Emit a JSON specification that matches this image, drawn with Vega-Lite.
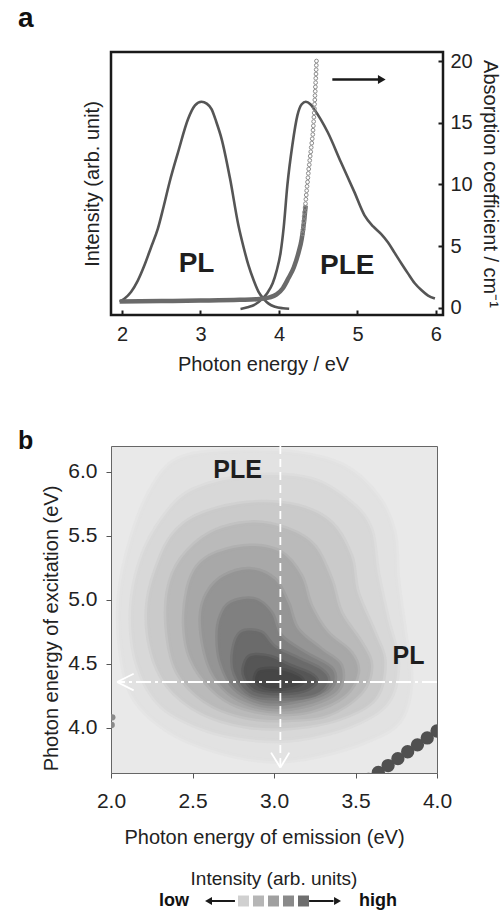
{
  "$schema": "https://vega.github.io/schema/vega-lite/v6.json",
  "padding": {"left": 16, "top": 3, "right": 0, "bottom": 0},
  "spacing": 52,
  "config": {
    "font": "Liberation Sans",
    "view": {"stroke": null},
    "axis": {"grid": false, "domain": false, "labelFontSize": 20, "titleFontSize": 20, "titleFontWeight": "normal", "labelColor": "#222", "titleColor": "#222", "labelFlush": false, "labelOverlap": false},
    "title": {"color": "#111"}
  },
  "datasets": {
    "curves": [
      {"s":"PL","e":1.97,"v":0.5},{"s":"PL","e":2.03,"v":0.75},{"s":"PL","e":2.115,"v":1.3},{"s":"PL","e":2.2,"v":2.2},{"s":"PL","e":2.286,"v":3.46},{"s":"PL","e":2.37,"v":4.9},{"s":"PL","e":2.457,"v":6.42},{"s":"PL","e":2.53,"v":8.2},{"s":"PL","e":2.607,"v":10.2},{"s":"PL","e":2.714,"v":12.6},{"s":"PL","e":2.842,"v":15.3},{"s":"PL","e":2.93,"v":16.4},{"s":"PL","e":3.013,"v":16.7},{"s":"PL","e":3.08,"v":16.55},{"s":"PL","e":3.141,"v":16.1},{"s":"PL","e":3.2,"v":15.1},{"s":"PL","e":3.269,"v":13.7},{"s":"PL","e":3.376,"v":10.5},{"s":"PL","e":3.483,"v":6.7},{"s":"PL","e":3.55,"v":4.9},{"s":"PL","e":3.611,"v":3.46},{"s":"PL","e":3.68,"v":2.2},{"s":"PL","e":3.74,"v":1.3},{"s":"PL","e":3.81,"v":0.7},{"s":"PL","e":3.868,"v":0.35},{"s":"PL","e":3.95,"v":0.1},{"s":"PL","e":4.05,"v":-0.02},{"s":"PL","e":4.13,"v":-0.06},
      {"s":"PLE","e":3.51,"v":-0.08},{"s":"PLE","e":3.6,"v":0.05},{"s":"PLE","e":3.7,"v":0.3},{"s":"PLE","e":3.78,"v":0.7},{"s":"PLE","e":3.85,"v":1.2},{"s":"PLE","e":3.92,"v":2.0},{"s":"PLE","e":3.97,"v":3.0},{"s":"PLE","e":4.022,"v":4.53},{"s":"PLE","e":4.06,"v":6.5},{"s":"PLE","e":4.107,"v":9.93},{"s":"PLE","e":4.171,"v":13.2},{"s":"PLE","e":4.235,"v":15.6},{"s":"PLE","e":4.29,"v":16.5},{"s":"PLE","e":4.342,"v":16.7},{"s":"PLE","e":4.4,"v":16.5},{"s":"PLE","e":4.449,"v":16.1},{"s":"PLE","e":4.53,"v":15.3},{"s":"PLE","e":4.62,"v":14.25},{"s":"PLE","e":4.79,"v":11.8},{"s":"PLE","e":4.96,"v":9.4},{"s":"PLE","e":5.09,"v":7.5},{"s":"PLE","e":5.2,"v":6.6},{"s":"PLE","e":5.3,"v":6.0},{"s":"PLE","e":5.39,"v":5.3},{"s":"PLE","e":5.47,"v":4.5},{"s":"PLE","e":5.56,"v":3.6},{"s":"PLE","e":5.645,"v":2.78},{"s":"PLE","e":5.73,"v":2.0},{"s":"PLE","e":5.817,"v":1.43},{"s":"PLE","e":5.9,"v":1.0},{"s":"PLE","e":5.987,"v":0.76}
    ],
    "absLine": [
      {"e":1.97,"v":0.52},{"e":2.5,"v":0.56},{"e":3.0,"v":0.6},{"e":3.5,"v":0.66},{"e":3.75,"v":0.72},{"e":3.88,"v":0.85},{"e":3.97,"v":1.1},{"e":4.05,"v":1.6},{"e":4.12,"v":2.4},{"e":4.19,"v":3.3},{"e":4.25,"v":4.5},{"e":4.29,"v":5.6},{"e":4.32,"v":7.0},{"e":4.34,"v":8.3}
    ],
    "absPts": [
      {"e":4.301,"v":6.0},{"e":4.307,"v":6.35},{"e":4.312,"v":6.7},{"e":4.317,"v":7.05},{"e":4.322,"v":7.4},{"e":4.327,"v":7.75},{"e":4.333,"v":8.1},{"e":4.338,"v":8.45},{"e":4.343,"v":8.8},{"e":4.348,"v":9.15},{"e":4.353,"v":9.5},{"e":4.358,"v":9.85},{"e":4.364,"v":10.2},{"e":4.369,"v":10.55},{"e":4.374,"v":10.9},{"e":4.379,"v":11.25},{"e":4.386,"v":11.6},{"e":4.392,"v":11.95},{"e":4.398,"v":12.3},{"e":4.405,"v":12.65},{"e":4.411,"v":13.0},{"e":4.418,"v":13.35},{"e":4.424,"v":13.7},{"e":4.431,"v":14.05},{"e":4.434,"v":14.4},{"e":4.438,"v":14.75},{"e":4.442,"v":15.1},{"e":4.445,"v":15.45},{"e":4.449,"v":15.8},{"e":4.452,"v":16.15},{"e":4.454,"v":16.5},{"e":4.457,"v":16.85},{"e":4.459,"v":17.2},{"e":4.462,"v":17.55},{"e":4.464,"v":17.9},{"e":4.467,"v":18.25},{"e":4.469,"v":18.6},{"e":4.472,"v":18.95},{"e":4.474,"v":19.3},{"e":4.476,"v":19.65},{"e":4.478,"v":20.0}
    ],
    "arrowA": [{"e":4.68,"e2":5.29,"v":18.5}],
    "arrowHeadA": [{"e":5.31,"v":18.5}],
    "labelsA": [{"t":"PL","e":2.95,"v":2.9},{"t":"PLE","e":4.87,"v":2.78}],
    "contours": [
      {"lv":"L01","o":1,"em":2.409,"ex":6.096},{"lv":"L01","o":2,"em":2.716,"ex":6.161},{"lv":"L01","o":3,"em":3.125,"ex":6.148},{"lv":"L01","o":4,"em":3.431,"ex":6.044},{"lv":"L01","o":5,"em":3.636,"ex":5.809},{"lv":"L01","o":6,"em":3.738,"ex":5.523},{"lv":"L01","o":7,"em":3.759,"ex":5.158},{"lv":"L01","o":8,"em":3.8,"ex":4.768},{"lv":"L01","o":9,"em":3.84,"ex":4.377},{"lv":"L01","o":10,"em":3.779,"ex":4.065},{"lv":"L01","o":11,"em":3.595,"ex":3.908},{"lv":"L01","o":12,"em":3.268,"ex":3.778},{"lv":"L01","o":13,"em":2.982,"ex":3.739},{"lv":"L01","o":14,"em":2.675,"ex":3.804},{"lv":"L01","o":15,"em":2.368,"ex":3.96},{"lv":"L01","o":16,"em":2.143,"ex":4.221},{"lv":"L01","o":17,"em":2.061,"ex":4.585},{"lv":"L01","o":18,"em":2.051,"ex":5.028},{"lv":"L01","o":19,"em":2.123,"ex":5.471},{"lv":"L01","o":20,"em":2.245,"ex":5.861},
      {"lv":"L02","o":1,"em":2.511,"ex":5.861},{"lv":"L02","o":2,"em":2.859,"ex":5.966},{"lv":"L02","o":3,"em":3.227,"ex":5.94},{"lv":"L02","o":4,"em":3.472,"ex":5.757},{"lv":"L02","o":5,"em":3.595,"ex":5.549},{"lv":"L02","o":6,"em":3.636,"ex":5.21},{"lv":"L02","o":7,"em":3.697,"ex":4.846},{"lv":"L02","o":8,"em":3.759,"ex":4.507},{"lv":"L02","o":9,"em":3.697,"ex":4.195},{"lv":"L02","o":10,"em":3.472,"ex":4.012},{"lv":"L02","o":11,"em":3.145,"ex":3.908},{"lv":"L02","o":12,"em":2.859,"ex":3.908},{"lv":"L02","o":13,"em":2.573,"ex":3.986},{"lv":"L02","o":14,"em":2.307,"ex":4.169},{"lv":"L02","o":15,"em":2.164,"ex":4.481},{"lv":"L02","o":16,"em":2.123,"ex":4.898},{"lv":"L02","o":17,"em":2.184,"ex":5.315},{"lv":"L02","o":18,"em":2.327,"ex":5.653},
      {"lv":"L03","o":1,"em":2.573,"ex":5.679},{"lv":"L03","o":2,"em":2.859,"ex":5.757},{"lv":"L03","o":3,"em":3.145,"ex":5.731},{"lv":"L03","o":4,"em":3.35,"ex":5.601},{"lv":"L03","o":5,"em":3.472,"ex":5.341},{"lv":"L03","o":6,"em":3.513,"ex":5.054},{"lv":"L03","o":7,"em":3.616,"ex":4.742},{"lv":"L03","o":8,"em":3.677,"ex":4.507},{"lv":"L03","o":9,"em":3.616,"ex":4.221},{"lv":"L03","o":10,"em":3.391,"ex":4.065},{"lv":"L03","o":11,"em":3.104,"ex":3.999},{"lv":"L03","o":12,"em":2.818,"ex":4.012},{"lv":"L03","o":13,"em":2.552,"ex":4.117},{"lv":"L03","o":14,"em":2.348,"ex":4.325},{"lv":"L03","o":15,"em":2.245,"ex":4.611},{"lv":"L03","o":16,"em":2.225,"ex":4.976},{"lv":"L03","o":17,"em":2.307,"ex":5.341},{"lv":"L03","o":18,"em":2.409,"ex":5.549},
      {"lv":"L04","o":1,"em":2.613,"ex":5.523},{"lv":"L04","o":2,"em":2.859,"ex":5.601},{"lv":"L04","o":3,"em":3.084,"ex":5.549},{"lv":"L04","o":4,"em":3.247,"ex":5.419},{"lv":"L04","o":5,"em":3.35,"ex":5.158},{"lv":"L04","o":6,"em":3.411,"ex":4.898},{"lv":"L04","o":7,"em":3.534,"ex":4.664},{"lv":"L04","o":8,"em":3.595,"ex":4.481},{"lv":"L04","o":9,"em":3.534,"ex":4.273},{"lv":"L04","o":10,"em":3.329,"ex":4.1},{"lv":"L04","o":11,"em":3.063,"ex":4.06},{"lv":"L04","o":12,"em":2.798,"ex":4.09},{"lv":"L04","o":13,"em":2.573,"ex":4.21},{"lv":"L04","o":14,"em":2.409,"ex":4.429},{"lv":"L04","o":15,"em":2.348,"ex":4.716},{"lv":"L04","o":16,"em":2.348,"ex":5.054},{"lv":"L04","o":17,"em":2.429,"ex":5.315},
      {"lv":"L05","o":1,"em":2.654,"ex":5.367},{"lv":"L05","o":2,"em":2.859,"ex":5.419},{"lv":"L05","o":3,"em":3.043,"ex":5.367},{"lv":"L05","o":4,"em":3.166,"ex":5.184},{"lv":"L05","o":5,"em":3.227,"ex":4.95},{"lv":"L05","o":6,"em":3.329,"ex":4.742},{"lv":"L05","o":7,"em":3.472,"ex":4.585},{"lv":"L05","o":8,"em":3.513,"ex":4.429},{"lv":"L05","o":9,"em":3.431,"ex":4.25},{"lv":"L05","o":10,"em":3.227,"ex":4.13},{"lv":"L05","o":11,"em":3.002,"ex":4.11},{"lv":"L05","o":12,"em":2.777,"ex":4.17},{"lv":"L05","o":13,"em":2.613,"ex":4.31},{"lv":"L05","o":14,"em":2.491,"ex":4.533},{"lv":"L05","o":15,"em":2.45,"ex":4.794},{"lv":"L05","o":16,"em":2.47,"ex":5.08},{"lv":"L05","o":17,"em":2.532,"ex":5.262},
      {"lv":"L06","o":1,"em":2.695,"ex":5.184},{"lv":"L06","o":2,"em":2.859,"ex":5.236},{"lv":"L06","o":3,"em":3.002,"ex":5.158},{"lv":"L06","o":4,"em":3.084,"ex":4.976},{"lv":"L06","o":5,"em":3.145,"ex":4.768},{"lv":"L06","o":6,"em":3.288,"ex":4.611},{"lv":"L06","o":7,"em":3.411,"ex":4.481},{"lv":"L06","o":8,"em":3.39,"ex":4.29},{"lv":"L06","o":9,"em":3.186,"ex":4.17},{"lv":"L06","o":10,"em":2.961,"ex":4.15},{"lv":"L06","o":11,"em":2.757,"ex":4.24},{"lv":"L06","o":12,"em":2.634,"ex":4.403},{"lv":"L06","o":13,"em":2.573,"ex":4.611},{"lv":"L06","o":14,"em":2.552,"ex":4.872},{"lv":"L06","o":15,"em":2.593,"ex":5.054},
      {"lv":"L07","o":1,"em":2.736,"ex":4.976},{"lv":"L07","o":2,"em":2.879,"ex":5.002},{"lv":"L07","o":3,"em":2.982,"ex":4.898},{"lv":"L07","o":4,"em":3.043,"ex":4.716},{"lv":"L07","o":5,"em":3.186,"ex":4.585},{"lv":"L07","o":6,"em":3.36,"ex":4.45},{"lv":"L07","o":7,"em":3.33,"ex":4.29},{"lv":"L07","o":8,"em":3.104,"ex":4.2},{"lv":"L07","o":9,"em":2.92,"ex":4.2},{"lv":"L07","o":10,"em":2.757,"ex":4.31},{"lv":"L07","o":11,"em":2.675,"ex":4.507},{"lv":"L07","o":12,"em":2.654,"ex":4.716},{"lv":"L07","o":13,"em":2.675,"ex":4.872},
      {"lv":"L08","o":1,"em":2.798,"ex":4.742},{"lv":"L08","o":2,"em":2.92,"ex":4.742},{"lv":"L08","o":3,"em":3.002,"ex":4.63},{"lv":"L08","o":4,"em":3.145,"ex":4.54},{"lv":"L08","o":5,"em":3.29,"ex":4.45},{"lv":"L08","o":6,"em":3.33,"ex":4.36},{"lv":"L08","o":7,"em":3.25,"ex":4.26},{"lv":"L08","o":8,"em":3.05,"ex":4.23},{"lv":"L08","o":9,"em":2.86,"ex":4.26},{"lv":"L08","o":10,"em":2.76,"ex":4.42},{"lv":"L08","o":11,"em":2.75,"ex":4.6},
      {"lv":"L09","o":1,"em":2.86,"ex":4.56},{"lv":"L09","o":2,"em":2.98,"ex":4.55},{"lv":"L09","o":3,"em":3.1,"ex":4.48},{"lv":"L09","o":4,"em":3.22,"ex":4.42},{"lv":"L09","o":5,"em":3.26,"ex":4.36},{"lv":"L09","o":6,"em":3.18,"ex":4.29},{"lv":"L09","o":7,"em":3.02,"ex":4.27},{"lv":"L09","o":8,"em":2.88,"ex":4.3},{"lv":"L09","o":9,"em":2.82,"ex":4.4},{"lv":"L09","o":10,"em":2.82,"ex":4.49},
      {"lv":"L10","o":1,"em":2.92,"ex":4.45},{"lv":"L10","o":2,"em":3.04,"ex":4.45},{"lv":"L10","o":3,"em":3.15,"ex":4.4},{"lv":"L10","o":4,"em":3.17,"ex":4.35},{"lv":"L10","o":5,"em":3.08,"ex":4.31},{"lv":"L10","o":6,"em":2.96,"ex":4.31},{"lv":"L10","o":7,"em":2.89,"ex":4.36},{"lv":"L10","o":8,"em":2.89,"ex":4.41}
    ],
    "scatter": [
      {"em":3.58,"ex":3.595},{"em":3.64,"ex":3.649},{"em":3.7,"ex":3.703},{"em":3.76,"ex":3.757},{"em":3.82,"ex":3.811},{"em":3.88,"ex":3.865},{"em":3.94,"ex":3.919},{"em":4.0,"ex":3.973},{"em":4.06,"ex":4.027}
    ],
    "smudge": [{"em":2.004,"ex":4.02},{"em":2.008,"ex":4.08}],
    "guides": [
      {"k":"v","em":3.039,"ex":6.2,"em2":3.039,"ex2":3.69},
      {"k":"h","em":4.0,"ex":4.356,"em2":2.04,"ex2":4.356},
      {"k":"c","em":3.039,"ex":3.687,"em2":2.982,"ex2":3.804},
      {"k":"c","em":3.039,"ex":3.687,"em2":3.094,"ex2":3.804},
      {"k":"c","em":2.037,"ex":4.356,"em2":2.139,"ex2":4.421},
      {"k":"c","em":2.037,"ex":4.356,"em2":2.139,"ex2":4.291}
    ],
    "labelsB": [{"t":"PLE","em":2.777,"ex":5.95},{"t":"PL","em":3.825,"ex":4.495}],
    "legendSq": [{"k":1,"c":"#d0d0d0"},{"k":2,"c":"#b6b6b6"},{"k":3,"c":"#a0a0a0"},{"k":4,"c":"#8a8a8a"},{"k":5,"c":"#6e6e6e"}],
    "legendArrows": [{"a":-1.1,"b":0.43},{"a":5.37,"b":7.0}],
    "legendHeads": [{"p":-1.33,"sh":"triangle-left"},{"p":7.27,"sh":"triangle-right"}],
    "legendText": [{"t":"low","p":-3.63},{"t":"high","p":9.97}]
  },
  "vconcat": [
    {
      "title": {"text": "a", "anchor": "start", "frame": "group", "fontSize": 28, "fontWeight": "bold", "dx": -93, "offset": -4, "baseline": "alphabetic"},
      "width": 332,
      "height": 263,
      "view": {"stroke": "#1a1a1a", "strokeWidth": 2.5},
      "resolve": {"scale": {"y": "independent"}},
      "layer": [
        {
          "layer": [
            {
              "data": {"name": "curves"},
              "mark": {"type": "line", "interpolate": "monotone", "stroke": "#555", "strokeWidth": 2.6},
              "encoding": {
                "x": {"field": "e", "type": "quantitative", "scale": {"domain": [1.86, 6.09], "nice": false, "zero": false},
                      "axis": {"values": [2, 3, 4, 5, 6], "format": "d", "tickSize": -5, "tickWidth": 2, "tickColor": "#1a1a1a", "labelPadding": 14, "title": "Photon energy / eV", "titlePadding": 10, "titleX": 152}},
                "y": {"field": "v", "type": "quantitative", "scale": {"domain": [-0.57, 20.73], "nice": false, "zero": false},
                      "axis": {"orient": "left", "labels": false, "ticks": false, "title": "Intensity (arb. unit)", "titlePadding": 9}},
                "detail": {"field": "s"}
              }
            },
            {
              "data": {"name": "labelsA"},
              "mark": {"type": "text", "fontSize": 28, "fontWeight": "bold", "baseline": "alphabetic", "align": "center", "color": "#1e1e1e"},
              "encoding": {
                "x": {"field": "e", "type": "quantitative"},
                "y": {"field": "v", "type": "quantitative"},
                "text": {"field": "t"}
              }
            }
          ]
        },
        {
          "layer": [
            {
              "data": {"name": "absLine"},
              "mark": {"type": "line", "interpolate": "monotone", "stroke": "#6a6a6a", "strokeWidth": 4.5},
              "encoding": {
                "x": {"field": "e", "type": "quantitative"},
                "y": {"field": "v", "type": "quantitative", "scale": {"domain": [-0.57, 20.73], "nice": false, "zero": false},
                      "axis": {"orient": "right", "values": [0, 5, 10, 15, 20], "tickSize": -5, "tickWidth": 2, "tickColor": "#1a1a1a", "labelPadding": 12, "title": "Absorption coefficient / cm⁻¹", "titlePadding": 7}}
              }
            },
            {
              "data": {"name": "absPts"},
              "mark": {"type": "point", "shape": "circle", "filled": false, "stroke": "#8c8c8c", "strokeWidth": 1, "size": 14, "opacity": 1},
              "encoding": {
                "x": {"field": "e", "type": "quantitative"},
                "y": {"field": "v", "type": "quantitative"}
              }
            },
            {
              "data": {"name": "arrowA"},
              "mark": {"type": "rule", "stroke": "#1a1a1a", "strokeWidth": 2.5},
              "encoding": {
                "x": {"field": "e", "type": "quantitative"},
                "x2": {"field": "e2"},
                "y": {"field": "v", "type": "quantitative"}
              }
            },
            {
              "data": {"name": "arrowHeadA"},
              "mark": {"type": "point", "shape": "triangle-right", "filled": true, "color": "#1a1a1a", "size": 80, "opacity": 1},
              "encoding": {
                "x": {"field": "e", "type": "quantitative"},
                "y": {"field": "v", "type": "quantitative"}
              }
            }
          ]
        }
      ]
    },
    {
      "spacing": 22,
      "vconcat": [
        {
          "title": {"text": "b", "anchor": "start", "frame": "group", "fontSize": 25, "fontWeight": "bold", "dx": -93, "offset": -29, "baseline": "alphabetic"},
          "width": 326,
          "height": 327,
          "view": {"fill": "#e9e9e9", "stroke": "#666", "strokeWidth": 1},
          "layer": [
            {
              "data": {"name": "contours"},
              "mark": {"type": "line", "interpolate": "cardinal-closed", "strokeWidth": 5, "strokeOpacity": 0.5, "clip": true},
              "encoding": {
                "x": {"field": "em", "type": "quantitative", "scale": {"domain": [2, 4], "nice": false, "zero": false},
                      "axis": {"values": [2, 2.5, 3, 3.5, 4], "format": ".1f", "labelFontSize": 21, "tickSize": 5, "tickColor": "#555", "labelPadding": 12, "title": "Photon energy  of emission (eV)", "titlePadding": 16, "titleX": 153}},
                "y": {"field": "ex", "type": "quantitative", "scale": {"domain": [3.645, 6.2], "nice": false, "zero": false},
                      "axis": {"values": [4, 4.5, 5, 5.5, 6], "format": ".1f", "labelFontSize": 21, "tickSize": 5, "tickColor": "#555", "labelPadding": 9, "title": "Photon energy  of excitation (eV)", "titlePadding": 6, "titleY": 182}},
                "detail": {"field": "lv"},
                "order": {"field": "o", "type": "quantitative"},
                "fill": {"field": "lv", "type": "nominal", "legend": null,
                         "scale": {"domain": ["L01","L02","L03","L04","L05","L06","L07","L08","L09","L10"],
                                   "range": ["#e2e2e2","#d8d8d8","#cacaca","#bababa","#a8a8a8","#959595","#808080","#6b6b6b","#565656","#464646"]}},
                "stroke": {"field": "lv", "type": "nominal", "legend": null,
                         "scale": {"domain": ["L01","L02","L03","L04","L05","L06","L07","L08","L09","L10"],
                                   "range": ["#e2e2e2","#d8d8d8","#cacaca","#bababa","#a8a8a8","#959595","#808080","#6b6b6b","#565656","#464646"]}}
              }
            },
            {
              "data": {"name": "scatter"},
              "mark": {"type": "point", "shape": "circle", "filled": true, "color": "#505050", "size": 177, "opacity": 1, "clip": true},
              "encoding": {
                "x": {"field": "em", "type": "quantitative"},
                "y": {"field": "ex", "type": "quantitative"}
              }
            },
            {
              "data": {"name": "smudge"},
              "mark": {"type": "point", "shape": "circle", "filled": true, "color": "#8a8a8a", "size": 40, "opacity": 1, "clip": true},
              "encoding": {
                "x": {"field": "em", "type": "quantitative"},
                "y": {"field": "ex", "type": "quantitative"}
              }
            },
            {
              "data": {"name": "guides"},
              "transform": [{"filter": "datum.k === 'v'"}],
              "mark": {"type": "rule", "stroke": "#ffffff", "strokeWidth": 1.8, "strokeDash": [8, 5]},
              "encoding": {
                "x": {"field": "em", "type": "quantitative"},
                "y": {"field": "ex", "type": "quantitative"},
                "x2": {"field": "em2"},
                "y2": {"field": "ex2"}
              }
            },
            {
              "data": {"name": "guides"},
              "transform": [{"filter": "datum.k === 'h'"}],
              "mark": {"type": "rule", "stroke": "#ffffff", "strokeWidth": 1.8, "strokeDash": [15, 4, 3, 4]},
              "encoding": {
                "x": {"field": "em", "type": "quantitative"},
                "y": {"field": "ex", "type": "quantitative"},
                "x2": {"field": "em2"},
                "y2": {"field": "ex2"}
              }
            },
            {
              "data": {"name": "guides"},
              "transform": [{"filter": "datum.k === 'c'"}],
              "mark": {"type": "rule", "stroke": "#ffffff", "strokeWidth": 1.8},
              "encoding": {
                "x": {"field": "em", "type": "quantitative"},
                "y": {"field": "ex", "type": "quantitative"},
                "x2": {"field": "em2"},
                "y2": {"field": "ex2"}
              }
            },
            {
              "data": {"name": "labelsB"},
              "mark": {"type": "text", "fontSize": 25, "fontWeight": "bold", "baseline": "alphabetic", "align": "center", "color": "#1e1e1e"},
              "encoding": {
                "x": {"field": "em", "type": "quantitative"},
                "y": {"field": "ex", "type": "quantitative"},
                "text": {"field": "t"}
              }
            }
          ]
        },
        {
          "title": {"text": "Intensity (arb. units)", "anchor": "middle", "frame": "group", "fontSize": 19, "fontWeight": "normal", "offset": 3, "color": "#222"},
          "width": 326,
          "height": 18,
          "layer": [
            {
              "data": {"name": "legendArrows"},
              "mark": {"type": "rule", "stroke": "#1a1a1a", "strokeWidth": 2},
              "encoding": {
                "x": {"field": "a", "type": "quantitative", "scale": {"domain": [-7.833, 13.9], "nice": false, "zero": false}, "axis": null},
                "x2": {"field": "b"},
                "y": {"datum": 0, "type": "quantitative", "scale": {"domain": [-1, 1]}, "axis": null}
              }
            },
            {
              "data": {"name": "legendHeads"},
              "mark": {"type": "point", "filled": true, "color": "#1a1a1a", "size": 64, "opacity": 1},
              "encoding": {
                "x": {"field": "p", "type": "quantitative"},
                "y": {"datum": 0, "type": "quantitative"},
                "shape": {"field": "sh", "type": "nominal", "scale": null}
              }
            },
            {
              "data": {"name": "legendSq"},
              "mark": {"type": "point", "shape": "square", "filled": true, "size": 121, "opacity": 1},
              "encoding": {
                "x": {"field": "k", "type": "quantitative"},
                "y": {"datum": 0, "type": "quantitative"},
                "color": {"field": "c", "type": "nominal", "scale": null}
              }
            },
            {
              "data": {"name": "legendText"},
              "mark": {"type": "text", "fontSize": 18, "fontWeight": "bold", "baseline": "middle", "align": "center", "color": "#111"},
              "encoding": {
                "x": {"field": "p", "type": "quantitative"},
                "y": {"datum": 0, "type": "quantitative"},
                "text": {"field": "t"}
              }
            }
          ]
        }
      ]
    }
  ]
}
